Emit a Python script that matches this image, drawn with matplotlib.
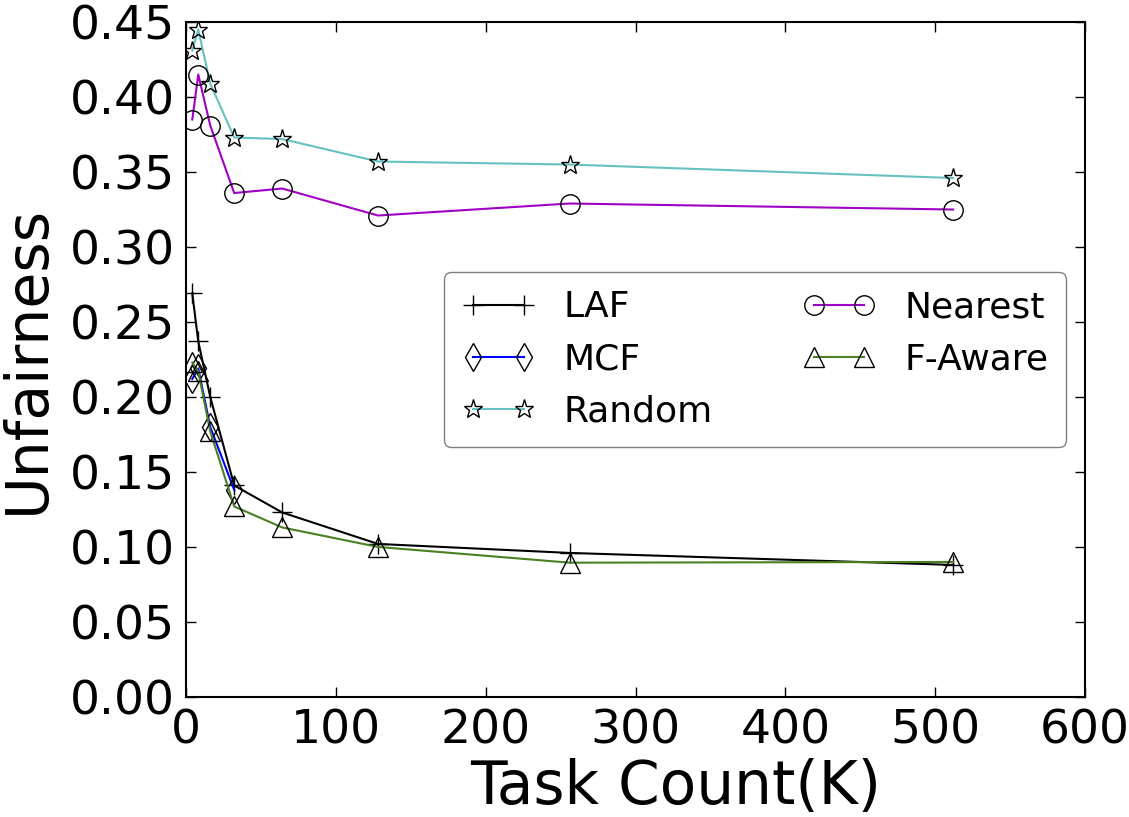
import matplotlib
matplotlib.use('Agg')

import matplotlib.pyplot as plt

# -------------------
# Data
# -------------------
task_count = [4, 8, 16, 32, 64, 128, 256, 512]
mcf_count = [4, 8, 16, 32]

laf = [0.269, 0.237, 0.200, 0.141, 0.123, 0.102, 0.096, 0.088]
mcf = [0.212, 0.219, 0.180, 0.138]
random_ = [0.431, 0.445, 0.409, 0.373, 0.372, 0.357, 0.355, 0.346]
nearest = [0.385, 0.415, 0.381, 0.336, 0.339, 0.321, 0.329, 0.325]
f_aware = [0.223, 0.217, 0.177, 0.127, 0.113, 0.100, 0.0895, 0.090]

# -------------------
# Plot
# -------------------
plt.rcParams['font.family'] = 'DejaVu Sans'
fig = plt.figure(figsize=(11.29, 8.17), dpi=100)
ax = fig.add_axes([0.165, 0.147, 0.796, 0.826])

ms = 14
lw = 1.5
common = dict(markersize=ms, markerfacecolor='none', markeredgecolor='k',
              markeredgewidth=1.0, linewidth=lw)

ax.plot(task_count, laf, marker='+', color='k', label='LAF', **common)
ax.plot(mcf_count, mcf, marker='d', color='#0000ff', label='MCF', **common)
ax.plot(task_count, random_, marker='*', color='#66c2c2', label='Random', **common)
ax.plot(task_count, nearest, marker='o', color='#a000c4', label='Nearest', **common)
ax.plot(task_count, f_aware, marker='^', color='#4a8020', label='F-Aware', **common)

ax.set_xlim(0, 600)
ax.set_ylim(0, 0.45)
ax.set_xticks(range(0, 601, 100))
ax.set_yticks([i * 0.05 for i in range(10)])
ax.set_yticklabels(['%.2f' % (i * 0.05) for i in range(10)])

ax.tick_params(direction='in', length=7, width=1, top=True, right=True,
               labelsize=34, pad=8)
for s in ax.spines.values():
    s.set_linewidth(1.5)

ax.set_xlabel('Task Count(K)', fontsize=43)
ax.xaxis.set_label_coords(0.545, -0.09)
ax.set_ylabel('Unfairness', fontsize=42, labelpad=10)

leg = ax.legend(ncol=2, loc='center right', bbox_to_anchor=(0.979, 0.5),
                borderaxespad=0, fontsize=26, numpoints=2, handlelength=2.0,
                handletextpad=0.8, columnspacing=2.5, labelspacing=0.5,
                borderpad=0.5, fancybox=True, framealpha=1.0, edgecolor='gray')

fig.savefig('out.png', dpi=100)
